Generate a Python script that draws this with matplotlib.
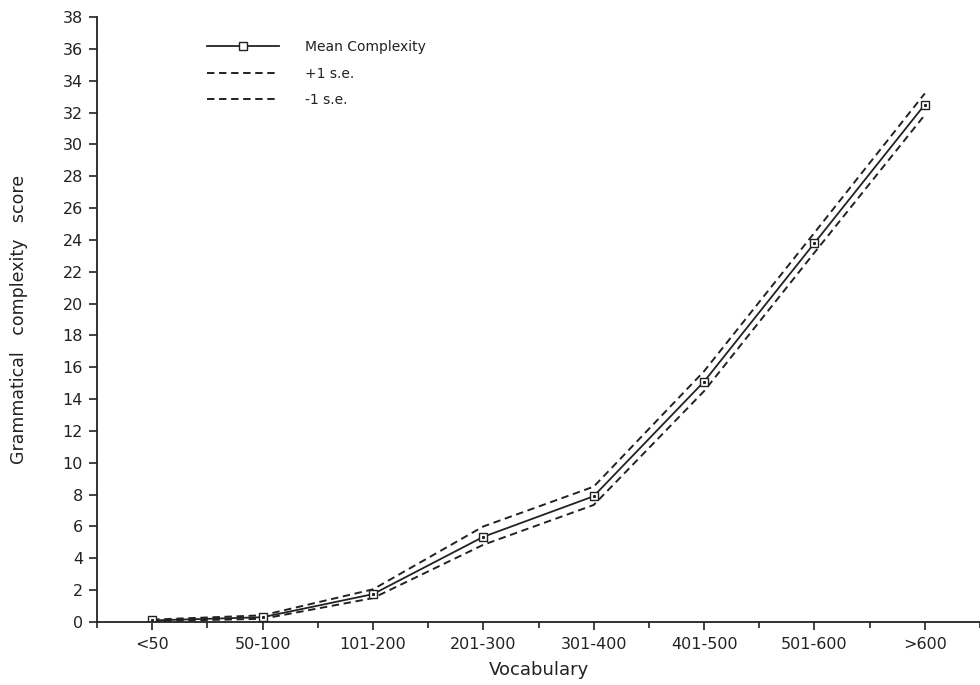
import matplotlib
matplotlib.use("Agg")
import matplotlib.pyplot as plt
from matplotlib.lines import Line2D
from matplotlib.ticker import MultipleLocator, FixedLocator

categories = ["<50", "50-100", "101-200", "201-300", "301-400", "401-500", "501-600", ">600"]
mean_complexity = [0.1, 0.3, 1.75, 5.35, 7.9, 15.1, 23.8, 32.5]
plus_se = [0.15, 0.42, 2.05, 6.0, 8.5, 15.75, 24.45, 33.2]
minus_se = [0.05, 0.2, 1.5, 4.85, 7.35, 14.5, 23.2, 31.85]

plt.rcParams['font.family'] = ['DejaVu Sans']

fig = plt.figure(figsize=(9.8, 6.85), dpi=100)
ax = fig.add_axes([97/980, 63/685, 883/980, 605/685])

x = list(range(len(categories)))
col = '#222222'
dash = (0, (3.8, 2.4))
ax.plot(x, plus_se, color=col, lw=1.4, linestyle=dash)
ax.plot(x, minus_se, color=col, lw=1.4, linestyle=dash)
ax.plot(x, mean_complexity, color=col, lw=1.3, marker='s', markersize=6,
        markerfacecolor='white', markeredgecolor=col, markeredgewidth=1.0)
ax.plot(x, mean_complexity, linestyle='none', marker='s', markersize=1.2,
        color=col)

ax.set_xlim(-0.5, 7.5)
ax.set_ylim(0, 38)
ax.yaxis.set_major_locator(MultipleLocator(2))
ax.set_xticks(x)
ax.set_xticklabels(categories)
ax.xaxis.set_minor_locator(FixedLocator([i + 0.5 for i in range(-1, 8)]))

for s in ['top', 'right']:
    ax.spines[s].set_visible(False)
for s in ['left', 'bottom']:
    ax.spines[s].set_color(col)
    ax.spines[s].set_linewidth(1.3)

ax.tick_params(axis='both', which='major', direction='out', length=6, width=1.2,
               color=col, labelsize=11.5, labelcolor=col)
ax.tick_params(axis='x', which='minor', direction='out', length=4, width=1.2, color=col)
ax.tick_params(axis='x', which='major', pad=5)
ax.tick_params(axis='y', which='major', pad=4)

ax.set_xlabel("Vocabulary", fontsize=13, color=col, labelpad=6)
ax.set_ylabel("Grammatical   complexity   score", fontsize=12.5, color=col, labelpad=25)

handles = [
    Line2D([0], [0], color=col, lw=1.3, marker='s', markersize=6,
           markerfacecolor='white', markeredgecolor=col, markeredgewidth=1.0),
    Line2D([0], [0], color=col, lw=1.4, linestyle=dash),
    Line2D([0], [0], color=col, lw=1.4, linestyle=dash),
]
labels = ["Mean Complexity", "+1 s.e.", "-1 s.e."]
ax.legend(handles, labels, loc='upper left', bbox_to_anchor=(207/980, (685-40)/685),
          bbox_transform=fig.transFigure, frameon=False, fontsize=10,
          handlelength=5.2, handletextpad=1.85, labelspacing=0.9,
          borderpad=0, borderaxespad=0, labelcolor=col)

fig.savefig("out.png", dpi=100, facecolor='white')
